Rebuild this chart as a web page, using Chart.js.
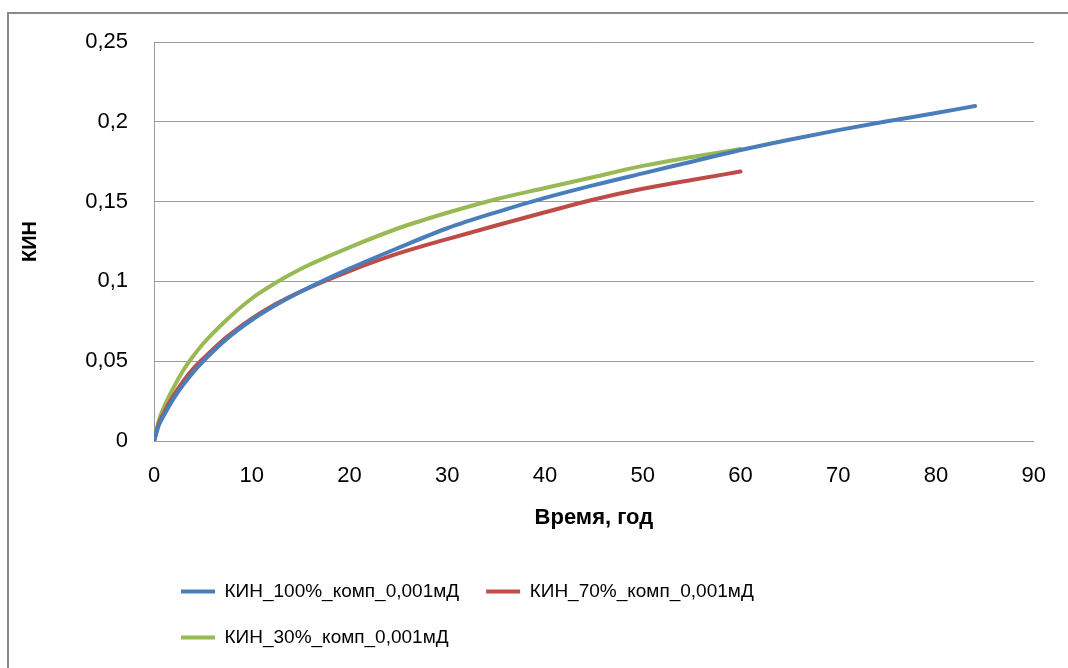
<!DOCTYPE html>
<html lang="ru">
<head>
<meta charset="utf-8">
<title>КИН</title>
<script src="https://cdn.jsdelivr.net/npm/chart.js@4/dist/chart.umd.min.js"></script>
<style>
  html, body { margin: 0; padding: 0; background: #fff; overflow: hidden; }
  body { width: 1068px; height: 668px; position: relative; }
  #frame {
    position: absolute; left: 7px; top: 12px;
    width: 1100px; height: 700px;
    border: 2px solid #8a8a8a; box-sizing: border-box;
  }
  #chart { position: absolute; left: 0; top: 0; }
</style>
</head>
<body>
<div id="frame"></div>
<canvas id="chart" width="1068" height="668"></canvas>
<script>
// Время, год — sample times and КИН values for each curve
const years100 = [0, 0.5, 1, 2, 3, 4, 5, 7.5, 10, 12.5, 15, 20, 25, 30, 35, 40, 45, 50, 55, 60, 65, 70, 75, 80, 84];
const kin100   = [0, 0.010, 0.016, 0.0265, 0.0353, 0.043, 0.0498, 0.0643, 0.0758, 0.0853, 0.0935, 0.108, 0.121, 0.1333, 0.1433, 0.1523, 0.1603, 0.1677, 0.175, 0.1823, 0.1888, 0.1948, 0.2003, 0.2055, 0.2099];

const years70 = [0, 0.5, 1, 2, 3, 4, 5, 7.5, 10, 12.5, 15, 20, 25, 30, 35, 40, 45, 50, 55, 60];
const kin70   = [0, 0.011, 0.0175, 0.0285, 0.0375, 0.0452, 0.0514, 0.0654, 0.0767, 0.086, 0.0937, 0.1065, 0.1175, 0.1265, 0.135, 0.1433, 0.1513, 0.158, 0.1635, 0.1688];

const years30 = [0, 0.5, 1, 2, 3, 4, 5, 7.5, 10, 12.5, 15, 20, 25, 30, 35, 40, 45, 50, 55, 60];
const kin30   = [0, 0.013, 0.021, 0.0335, 0.0443, 0.0531, 0.0608, 0.0763, 0.0893, 0.0993, 0.1078, 0.1213, 0.1333, 0.143, 0.1515, 0.1585, 0.1654, 0.1724, 0.1779, 0.1829];

const seriesNames = ['КИН_100%_комп_0,001мД', 'КИН_70%_комп_0,001мД', 'КИН_30%_комп_0,001мД'];
const seriesColors = ['#4a7ebb', '#be4b48', '#98b954'];

const yTickValues = [0, 0.05, 0.1, 0.15, 0.2, 0.25];
const yTickLabels = ['0', '0,05', '0,1', '0,15', '0,2', '0,25'];
const xTitle = 'Время, год';
const yTitle = 'КИН';

const toPoints = (xs, ys) => xs.map((x, i) => ({ x: x, y: ys[i] }));

const lineStyle = (i) => ({
  label: seriesNames[i],
  borderColor: seriesColors[i],
  backgroundColor: seriesColors[i],
  borderWidth: 4,
  borderCapStyle: 'round',
  borderJoinStyle: 'round',
  pointRadius: 0,
  pointHoverRadius: 0,
  cubicInterpolationMode: 'monotone',
  fill: false
});

const FONT = "'Liberation Sans', Arial, sans-serif";

new Chart(document.getElementById('chart'), {
  type: 'line',
  data: {
    datasets: [
      Object.assign(lineStyle(0), { data: toPoints(years100, kin100) }),
      Object.assign(lineStyle(1), { data: toPoints(years70, kin70) }),
      Object.assign(lineStyle(2), { data: toPoints(years30, kin30) })
    ]
  },
  options: {
    responsive: false,
    animation: false,
    devicePixelRatio: 1,
    layout: { padding: { left: 0, top: 42, right: 31, bottom: 11 } },
    plugins: {
      tooltip: { enabled: false },
      legend: {
        position: 'bottom',
        align: 'start',
        fullSize: false,
        labels: {
          color: '#000',
          font: { family: FONT, size: 19 },
          boxWidth: 34,
          boxHeight: 4,
          padding: 27,
          generateLabels: (chart) => chart.data.datasets.map((ds, i) => ({
            text: ds.label,
            fillStyle: ds.borderColor,
            strokeStyle: ds.borderColor,
            lineWidth: 0,
            hidden: false,
            datasetIndex: i,
            fontColor: '#000'
          }))
        }
      }
    },
    scales: {
      x: {
        type: 'linear',
        min: 0,
        max: 90,
        border: { display: true, color: '#9a9a9a', width: 1 },
        grid: { display: false, drawTicks: false },
        ticks: {
          stepSize: 10,
          padding: 22,
          color: '#000',
          font: { family: FONT, size: 22 },
          maxRotation: 0
        },
        title: {
          display: true,
          text: xTitle,
          color: '#000',
          font: { family: FONT, size: 22, weight: 'bold' },
          padding: { top: 0, bottom: 24 }
        },
        afterFit: (scale) => { scale.height = 114; }
      },
      y: {
        type: 'linear',
        min: 0,
        max: 0.25,
        border: { display: true, color: '#9a9a9a', width: 1 },
        grid: { color: '#9a9a9a', lineWidth: 1, drawTicks: false },
        afterBuildTicks: (scale) => { scale.ticks = yTickValues.map(v => ({ value: v })); },
        ticks: {
          padding: 26,
          color: '#000',
          font: { family: FONT, size: 22 },
          callback: (value) => {
            const i = yTickValues.findIndex(v => Math.abs(v - value) < 1e-9);
            return i >= 0 ? yTickLabels[i] : '';
          }
        },
        title: {
          display: true,
          text: yTitle,
          color: '#000',
          font: { family: FONT, size: 20, weight: 'bold' },
          padding: { top: 18, bottom: 0 }
        },
        afterFit: (scale) => { scale.width = 154; }
      }
    }
  }
});
</script>
</body>
</html>
